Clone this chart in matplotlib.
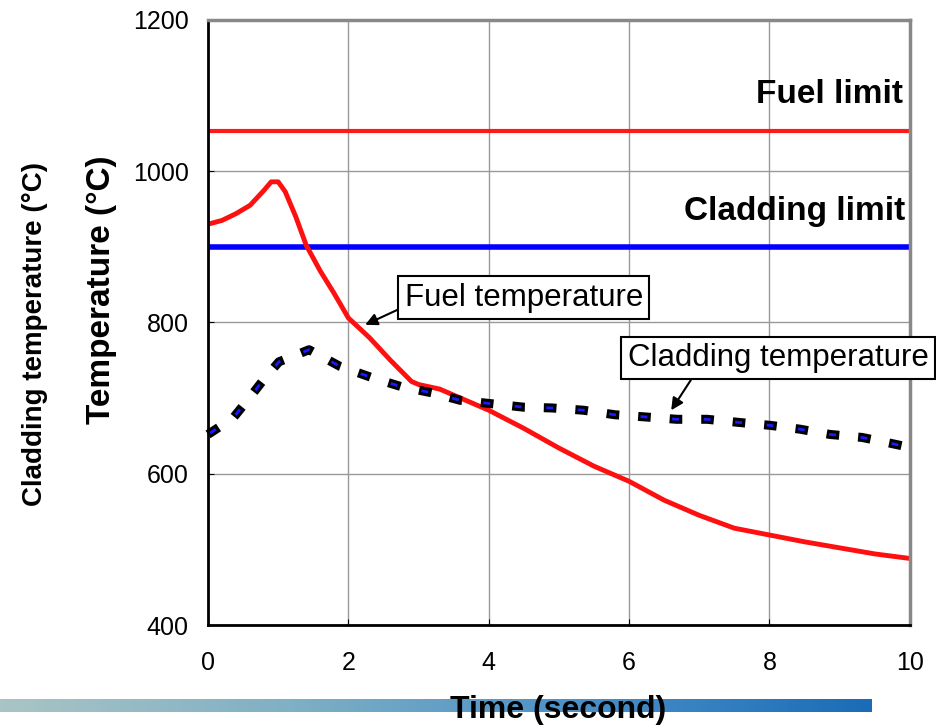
import numpy as np
import matplotlib
matplotlib.use("Agg")
import matplotlib.pyplot as plt
from matplotlib.colors import LinearSegmentedColormap

plt.rcParams['font.family'] = ['Liberation Sans', 'DejaVu Sans']

# data
t_fuel = [0, 0.2, 0.4, 0.6, 0.8, 0.9, 1.0, 1.1, 1.25, 1.4, 1.6, 1.8, 2.0, 2.3, 2.6, 2.9, 3.0, 3.3, 3.6, 4.0, 4.5, 5.0, 5.5, 6.0, 6.5, 7.0, 7.5, 8.0, 8.5, 9.0, 9.5, 10.0]
fuel_temp = [930, 935, 944, 955, 975, 986, 986, 973, 940, 902, 868, 838, 806, 780, 750, 722, 718, 712, 700, 684, 660, 634, 610, 590, 565, 545, 528, 519, 510, 502, 494, 488]
t_clad = [0, 0.36, 0.57, 0.78, 1.01, 1.44, 1.88, 2.34, 2.76, 3.19, 3.6, 4.0, 4.5, 4.9, 5.35, 5.8, 6.25, 6.68, 7.11, 7.55, 8.01, 8.43, 8.86, 9.32, 9.74, 10.14]
clad_temp = [652, 674, 698, 723, 748, 764, 742, 727, 715, 707, 697, 693, 688, 687, 684, 678, 675, 672, 672, 668, 664, 659, 652, 648, 640, 632]
fuel_limit = 1053
clad_limit = 900

fig = plt.figure(figsize=(9.37, 7.27), dpi=100)

# gradient strip along the bottom
bar = fig.add_axes([0.0, 0.021, 0.93, 0.018])
grad = np.linspace(0, 1, 256).reshape(1, -1)
cmap = LinearSegmentedColormap.from_list("strip", ["#a9c4c4", "#7fb0c4", "#4a90c8", "#1a6cb8"])
bar.imshow(grad, aspect="auto", cmap=cmap)
bar.axis("off")

ax = fig.add_axes([0.222, 0.1403, 0.749, 0.8322])
ax.set_xlim(0, 10)
ax.set_ylim(400, 1200)
ax.set_xticks([0, 2, 4, 6, 8, 10])
ax.set_yticks([400, 600, 800, 1000, 1200])
ax.tick_params(direction="in", length=4, labelsize=18)
ax.tick_params(axis="x", pad=19)
ax.tick_params(axis="y", pad=14)
ax.grid(True, color="#999999", linewidth=1)
for s in ["left", "bottom"]:
    ax.spines[s].set_color("black")
    ax.spines[s].set_linewidth(2)
for s in ["top", "right"]:
    ax.spines[s].set_color("#888888")
    ax.spines[s].set_linewidth(2.5)

ax.axhline(fuel_limit, color="#ff1a1a", linewidth=3)
ax.axhline(clad_limit, color="#0000ff", linewidth=4)
ax.plot(t_fuel, fuel_temp, color="#ff1010", linewidth=3.5)
# cladding: black dashes with a short blue dash inside each
ax.plot(t_clad, clad_temp, color="black", linewidth=6.5, linestyle=(0, (1.4, 2.1)), clip_on=False)
ax.plot(t_clad, clad_temp, color="#1a1aff", linewidth=2, linestyle=(10.5, (2.5, 8.875)),
        dash_capstyle="butt", clip_on=False)

ax.text(9.9, 1090, "Fuel limit", ha="right", va="baseline", fontsize=24, fontweight="bold")
ax.text(9.93, 935, "Cladding limit", ha="right", va="baseline", fontsize=24, fontweight="bold")

box = dict(boxstyle="square,pad=0.2", fc="white", ec="black", lw=1.5)
ax.annotate("Fuel temperature", xy=(2.24, 797), xytext=(2.8, 833), fontsize=22.5,
            ha="left", va="center", bbox=box,
            arrowprops=dict(arrowstyle="-|>", color="black", lw=1.5, shrinkA=0, shrinkB=0,
                            relpos=(0, 0.2), mutation_scale=18))
ax.annotate("Cladding temperature", xy=(6.6, 684), xytext=(5.98, 753), fontsize=22.5,
            ha="left", va="center", bbox=box, annotation_clip=False,
            arrowprops=dict(arrowstyle="-|>", color="black", lw=1.5, shrinkA=0, shrinkB=0,
                            relpos=(0.225, 0), mutation_scale=18))

fig.text(0.596, 0.023, "Time (second)", ha="center", va="center", fontsize=23, fontweight="bold")
fig.text(0.108, 0.601, "Temperature (\u00b0C)", rotation=90, ha="center", va="center",
         fontsize=24, fontweight="bold")
fig.text(0.037, 0.54, "Cladding temperature (\u00b0C)", rotation=90, ha="center", va="center",
         fontsize=20, fontweight="bold")

fig.savefig("out.png", dpi=100)
